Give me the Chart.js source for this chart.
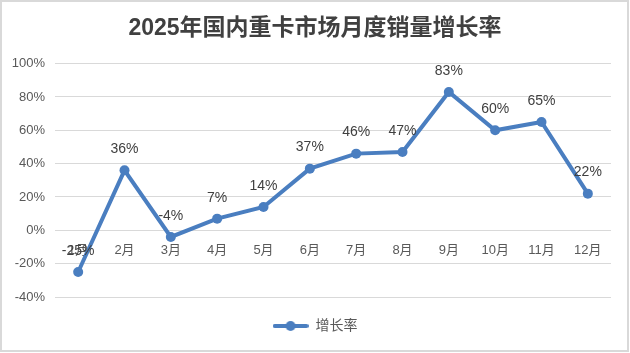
<!DOCTYPE html>
<html>
<head>
<meta charset="utf-8">
<script src="https://cdn.jsdelivr.net/npm/chart.js@4/dist/chart.umd.min.js"></script>
<style>
  html, body { margin: 0; padding: 0; background: #fff; }
  canvas { display: block; }
</style>
</head>
<body>
<canvas id="growthChart" width="630" height="353"></canvas>
<script>
// ── Data ──────────────────────────────────────────────────────────
const months = ['1月', '2月', '3月', '4月', '5月', '6月', '7月', '8月', '9月', '10月', '11月', '12月'];
const growthRate = [-25, 36, -4, 7, 14, 37, 46, 47, 83, 60, 65, 22];
const seriesName = '增长率';
const chartTitle = '2025年国内重卡市场月度销量增长率';

const LINE_COLOR = '#4a7ec0';
const FONT = "'Liberation Sans', 'Noto Sans CJK SC', sans-serif";

// legend marker: line with a dot in the middle
function legendMarker() {
    const c = document.createElement('canvas');
    c.width = 36; c.height = 12;
    const ctx = c.getContext('2d');
    ctx.strokeStyle = LINE_COLOR;
    ctx.lineWidth = 4;
    ctx.lineCap = 'round';
    ctx.beginPath(); ctx.moveTo(2, 6); ctx.lineTo(34, 6); ctx.stroke();
    ctx.fillStyle = LINE_COLOR;
    ctx.beginPath(); ctx.arc(18, 6, 5, 0, Math.PI * 2); ctx.fill();
    return c;
}

// ── Plugins ───────────────────────────────────────────────────────
const frame = {
    id: 'frame',
    beforeDraw(chart) {
        const { ctx, width, height } = chart;
        ctx.save();
        ctx.fillStyle = '#fff';
        ctx.fillRect(0, 0, width, height);
        ctx.strokeStyle = '#d9d9d9';
        ctx.lineWidth = 2;
        ctx.strokeRect(1, 1, width - 3, height - 3);
        ctx.restore();
    }
};

const valueLabels = {
    id: 'valueLabels',
    afterDatasetsDraw(chart) {
        const { ctx } = chart;
        const meta = chart.getDatasetMeta(0);
        ctx.save();
        ctx.font = `14px ${FONT}`;
        ctx.fillStyle = '#404040';
        ctx.textAlign = 'center';
        ctx.textBaseline = 'middle';
        meta.data.forEach((pt, i) => {
            ctx.fillText(growthRate[i] + '%', pt.x, pt.y - 21);
        });
        ctx.restore();
    }
};

// ── Chart ─────────────────────────────────────────────────────────
new Chart(document.getElementById('growthChart'), {
    type: 'line',
    data: {
        labels: months,
        datasets: [{
            label: seriesName,
            data: growthRate,
            borderColor: LINE_COLOR,
            backgroundColor: LINE_COLOR,
            borderWidth: 4,
            pointRadius: 5,
            pointBackgroundColor: LINE_COLOR,
            pointBorderWidth: 0,
            tension: 0
        }]
    },
    options: {
        responsive: false,
        animation: false,
        layout: { padding: { left: 0, right: 0, top: 0, bottom: 10 } },
        scales: {
            x: {
                position: { y: 0 },
                offset: true,
                grid: { display: false, drawTicks: false },
                border: { display: false },
                ticks: { color: '#595959', font: { family: FONT, size: 13 }, padding: 12, maxRotation: 0, autoSkip: false },
                afterFit(scale) { scale.height = 0; }
            },
            y: {
                min: -40, max: 100,
                grid: { color: '#d9d9d9', lineWidth: 1, drawTicks: false },
                border: { display: false },
                ticks: {
                    stepSize: 20,
                    color: '#595959',
                    font: { family: FONT, size: 13 },
                    padding: 10,
                    callback: v => v + '%'
                },
                afterFit(scale) { scale.width = 55; }
            },
            // empty right-hand spacer so title/legend stay centred on the canvas
            yRight: {
                position: 'right',
                grid: { display: false, drawTicks: false },
                border: { display: false },
                ticks: { display: false },
                afterFit(scale) { scale.width = 19; }
            }
        },
        plugins: {
            title: {
                display: true,
                text: chartTitle,
                color: '#404040',
                font: { family: FONT, size: 23, weight: 'bold' },
                padding: { top: 15, bottom: 21 }
            },
            legend: {
                position: 'bottom',
                labels: {
                    color: '#595959',
                    font: { family: FONT, size: 14 },
                    usePointStyle: true,
                    pointStyleWidth: 36,
                    padding: 22,
                    generateLabels(chart) {
                        const items = Chart.defaults.plugins.legend.labels.generateLabels(chart);
                        const marker = legendMarker();
                        items.forEach(it => { it.pointStyle = marker; });
                        return items;
                    }
                }
            },
            tooltip: { enabled: false }
        }
    },
    plugins: [frame, valueLabels]
});
</script>
</body>
</html>
